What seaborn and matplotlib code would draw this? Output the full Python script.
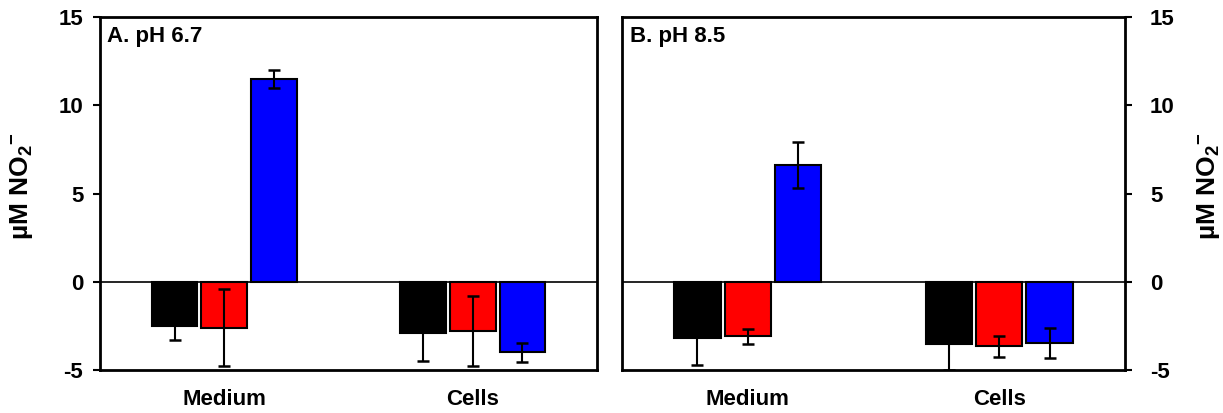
import numpy as np
import pandas as pd
import seaborn as sns
import matplotlib.pyplot as plt

# ---- data ----
categories = ['Medium', 'Cells']
treatments = ['Treatment 1', 'Treatment 2', 'Treatment 3']
colors = ['#000000', '#FF0000', '#0000FF']

ph67_t1 = [-2.5, -2.9]
ph67_t2 = [-2.6, -2.8]
ph67_t3 = [11.5, -4.0]
ph67_t1_err = [0.8, 1.6]
ph67_t2_err = [2.2, 2.0]
ph67_t3_err = [0.5, 0.55]

ph85_t1 = [-3.2, -3.55]
ph85_t2 = [-3.1, -3.65]
ph85_t3 = [6.6, -3.45]
ph85_t1_err = [1.5, 1.45]
ph85_t2_err = [0.45, 0.6]
ph85_t3_err = [1.3, 0.85]

panel_titles = ['A. pH 6.7', 'B. pH 8.5']
yticks = [-5, 0, 5, 10, 15]

sns.set_theme(style='white')
plt.rcParams['font.family'] = ['Liberation Sans', 'DejaVu Sans']
plt.rcParams['font.weight'] = 'bold'
plt.rcParams['axes.unicode_minus'] = False
for k in ['text.color', 'axes.labelcolor', 'xtick.color', 'ytick.color', 'axes.edgecolor']:
    plt.rcParams[k] = 'black'
plt.rcParams['mathtext.fontset'] = 'custom'
plt.rcParams['mathtext.rm'] = 'Liberation Sans:bold'
plt.rcParams['mathtext.it'] = 'Liberation Sans:bold'
plt.rcParams['mathtext.bf'] = 'Liberation Sans:bold'
plt.rcParams['mathtext.sf'] = 'Liberation Sans:bold'


def build(vals, errs):
    rows = []
    for t, v, e in zip(treatments, vals, errs):
        for c, vi, ei in zip(categories, v, e):
            rows.append({'condition': c, 'treatment': t, 'value': vi, 'err': ei})
    return pd.DataFrame(rows)


df_a = build([ph67_t1, ph67_t2, ph67_t3], [ph67_t1_err, ph67_t2_err, ph67_t3_err])
df_b = build([ph85_t1, ph85_t2, ph85_t3], [ph85_t1_err, ph85_t2_err, ph85_t3_err])

fig = plt.figure(figsize=(12.23, 4.13), dpi=100)
ax_a = fig.add_axes([100 / 1223, 1 - 370 / 413, 497 / 1223, 353 / 413])
ax_b = fig.add_axes([622 / 1223, 1 - 370 / 413, 503 / 1223, 353 / 413])

ylabel = r'µM NO$_\mathbf{2}$$^\mathbf{-}$'

for ax, df, title, side in [(ax_a, df_a, panel_titles[0], 'left'),
                            (ax_b, df_b, panel_titles[1], 'right')]:
    sns.barplot(data=df, x='condition', y='value', hue='treatment',
                order=categories, hue_order=treatments, palette=colors,
                saturation=1, width=0.6, gap=0.08, edgecolor='black',
                linewidth=1.5, errorbar=None, legend=False, ax=ax, zorder=2)
    for cont, t in zip(ax.containers, treatments):
        sub = df[df['treatment'] == t].set_index('condition').loc[categories]
        xs = [b.get_x() + b.get_width() / 2 for b in cont]
        ax.errorbar(xs, sub['value'].values, yerr=sub['err'].values, fmt='none',
                    ecolor='black', elinewidth=1.5, capsize=4, capthick=1.8,
                    zorder=3)
    ax.axhline(0, color='black', linewidth=1.2, zorder=1)
    ax.set_ylim(-5, 15)
    ax.set_yticks(yticks)
    ax.set_xlim(-0.5, 1.5)
    ax.set_xlabel('')
    ax.set_ylabel(ylabel, fontsize=19, fontweight='bold')
    for s in ax.spines.values():
        s.set_visible(True)
        s.set_color('black')
        s.set_linewidth(2)
    ax.tick_params(axis='x', length=0, pad=14, labelsize=16)
    ax.text(0.015, 0.975, title, transform=ax.transAxes, ha='left', va='top',
            fontsize=16, fontweight='bold')
    if side == 'left':
        ax.tick_params(axis='y', direction='out', length=5, width=1.5,
                       pad=7, labelsize=16, left=True, right=False)
        ax.yaxis.set_label_coords(-0.13, 0.52)
    else:
        ax.yaxis.tick_right()
        ax.yaxis.set_label_position('right')
        ax.tick_params(axis='y', direction='out', length=5, width=1.5,
                       pad=13, labelsize=16, left=False, right=True)
        ax.yaxis.set_label_coords(1.14, 0.52)
    for lbl in ax.get_xticklabels() + ax.get_yticklabels():
        lbl.set_fontweight('bold')

fig.savefig('out.png', dpi=100)
